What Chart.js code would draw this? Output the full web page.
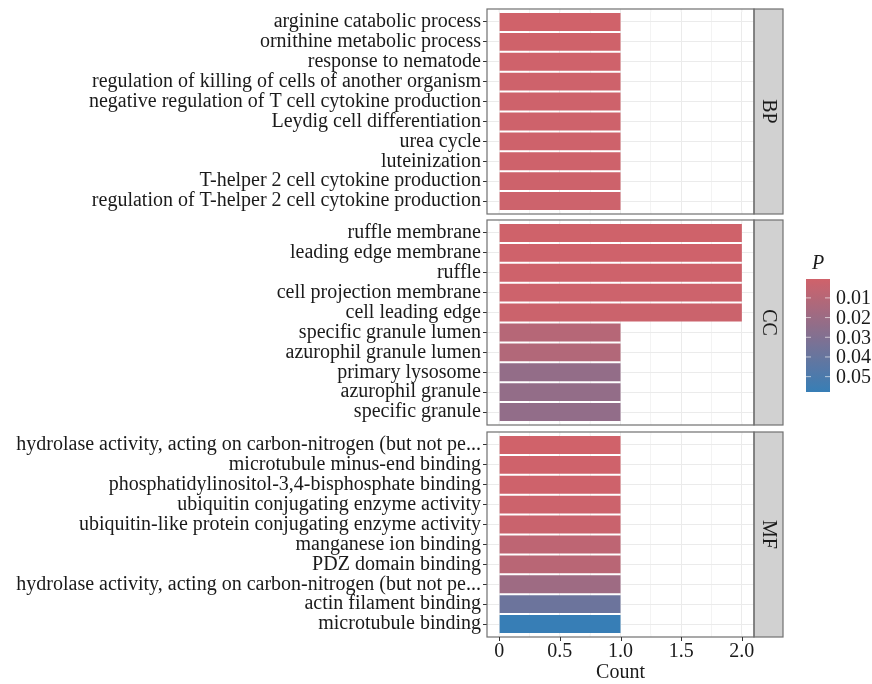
<!DOCTYPE html>
<html><head><meta charset="utf-8">
<script src="https://cdn.jsdelivr.net/npm/chart.js@4"></script>
<style>
html,body{margin:0;padding:0;background:#fff;}
#wrap{position:relative;width:872px;height:684px;background:#fff;}
canvas{position:absolute;left:0;top:0;}
</style></head><body>
<div id="wrap">
<canvas id="c1" width="872" height="684"></canvas>
<canvas id="c2" width="872" height="684"></canvas>
<canvas id="c3" width="872" height="684"></canvas>
</div>
<script>
// ---------- data ----------
const facetNames = ['BP', 'CC', 'MF'];

const bpTerms = [
  'arginine catabolic process',
  'ornithine metabolic process',
  'response to nematode',
  'regulation of killing of cells of another organism',
  'negative regulation of T cell cytokine production',
  'Leydig cell differentiation',
  'urea cycle',
  'luteinization',
  'T-helper 2 cell cytokine production',
  'regulation of T-helper 2 cell cytokine production'
];
const bpCounts = [1, 1, 1, 1, 1, 1, 1, 1, 1, 1];
const bpP = [0.0004, 0.0006, 0.0008, 0.0010, 0.0010, 0.0012, 0.0012, 0.0012, 0.0014, 0.0016];

const ccTerms = [
  'ruffle membrane',
  'leading edge membrane',
  'ruffle',
  'cell projection membrane',
  'cell leading edge',
  'specific granule lumen',
  'azurophil granule lumen',
  'primary lysosome',
  'azurophil granule',
  'specific granule'
];
const ccCounts = [2, 2, 2, 2, 2, 1, 1, 1, 1, 1];
const ccP = [0.0007, 0.0008, 0.0011, 0.0016, 0.0021, 0.0101, 0.0118, 0.0232, 0.0234, 0.0238];

const mfTerms = [
  'hydrolase activity, acting on carbon-nitrogen (but not pe...',
  'microtubule minus-end binding',
  'phosphatidylinositol-3,4-bisphosphate binding',
  'ubiquitin conjugating enzyme activity',
  'ubiquitin-like protein conjugating enzyme activity',
  'manganese ion binding',
  'PDZ domain binding',
  'hydrolase activity, acting on carbon-nitrogen (but not pe...',
  'actin filament binding',
  'microtubule binding'
];
const mfCounts = [1, 1, 1, 1, 1, 1, 1, 1, 1, 1];
const mfP = [0.0005, 0.0008, 0.0010, 0.0018, 0.0030, 0.0072, 0.0090, 0.0193, 0.0378, 0.0578];

const xTickValues = [0, 0.25, 0.5, 0.75, 1, 1.25, 1.5, 1.75, 2];
const xMajorTicks = [0, 0.5, 1, 1.5, 2];
const legendTicks = [0.01, 0.02, 0.03, 0.04, 0.05];

// ---------- colour scale ----------
const LOW = [208, 98, 106], HIGH = [55, 126, 182];
const allP = bpP.concat(ccP, mfP);
const pMin = Math.min(...allP), pMax = Math.max(...allP);
function fracFor(p) { return Math.max(0, Math.min(1, (p - pMin) / (pMax - pMin))); }
function colorFor(p) {
  const f = fracFor(p);
  const c = LOW.map((l, i) => Math.round(l + (HIGH[i] - l) * f));
  return `rgb(${c[0]},${c[1]},${c[2]})`;
}

const FONT = '"Liberation Serif", "Times New Roman", serif';
const TXT = '#1a1a1a';

// ---------- facet plugin ----------
const facetPlugin = {
  id: 'facet',
  beforeDatasetsDraw(chart) {
    const a = chart.chartArea, ctx = chart.ctx, xs = chart.scales.x;
    ctx.save();
    ctx.strokeStyle = '#EBEBEB';
    xTickValues.forEach(v => {
      const x = xs.getPixelForValue(v);
      ctx.lineWidth = xMajorTicks.includes(v) ? 1 : 0.6;
      ctx.beginPath();
      ctx.moveTo(x, a.top - 3); ctx.lineTo(x, a.top);
      ctx.moveTo(x, a.bottom); ctx.lineTo(x, a.bottom + 3);
      ctx.stroke();
    });
    ctx.restore();
  },
  afterDraw(chart, args, opts) {
    const ctx = chart.ctx, a = chart.chartArea;
    const top = a.top - 3, bottom = a.bottom + 3;
    ctx.save();
    const sx = a.right, sw = 29;
    ctx.fillStyle = '#D1D1D1';
    ctx.fillRect(sx, top, sw, bottom - top);
    ctx.strokeStyle = '#707070';
    ctx.lineWidth = 1.2;
    ctx.strokeRect(sx, top, sw, bottom - top);
    ctx.strokeRect(a.left, top, a.right - a.left, bottom - top);
    ctx.save();
    ctx.fillStyle = TXT;
    ctx.font = '20px ' + FONT;
    ctx.translate(sx + sw / 2, (top + bottom) / 2);
    ctx.rotate(Math.PI / 2);
    ctx.textAlign = 'center';
    ctx.textBaseline = 'middle';
    ctx.fillText(opts.label, 0, 0);
    ctx.restore();

    if (opts.xTicks) {
      const xs = chart.scales.x;
      ctx.strokeStyle = '#333';
      ctx.lineWidth = 1;
      xMajorTicks.forEach(v => {
        const x = Math.round(xs.getPixelForValue(v)) + 0.5;
        ctx.beginPath();
        ctx.moveTo(x, bottom); ctx.lineTo(x, bottom + 4);
        ctx.stroke();
      });
    }

    if (opts.legend) {
      const bx = 806, bw = 24, by = 279, bh = 113;
      ctx.fillStyle = TXT;
      ctx.font = 'italic 20px ' + FONT;
      ctx.textAlign = 'left';
      ctx.textBaseline = 'middle';
      ctx.fillText('P', 812, 264);
      const g = ctx.createLinearGradient(0, by, 0, by + bh);
      for (let i = 0; i <= 20; i++) {
        const p = pMin + (pMax - pMin) * i / 20;
        g.addColorStop(i / 20, colorFor(p));
      }
      ctx.fillStyle = g;
      ctx.fillRect(bx, by, bw, bh);
      ctx.font = '20px ' + FONT;
      legendTicks.forEach(v => {
        const y = by + fracFor(v) * bh;
        ctx.strokeStyle = 'rgba(255,255,255,0.6)';
        ctx.lineWidth = 1;
        ctx.beginPath();
        ctx.moveTo(bx, y); ctx.lineTo(bx + 5, y);
        ctx.moveTo(bx + bw - 5, y); ctx.lineTo(bx + bw, y);
        ctx.stroke();
        ctx.fillStyle = TXT;
        ctx.fillText(v.toFixed(2), 836, y + 1);
      });
    }
    ctx.restore();
  }
};

function makeChart(id, terms, counts, pvals, label, padTop, padBottom, isBottom, hasLegend) {
  return new Chart(document.getElementById(id), {
    type: 'bar',
    data: {
      labels: terms,
      datasets: [{
        data: counts,
        backgroundColor: pvals.map(colorFor),
        borderWidth: 0,
        barPercentage: 0.9,
        categoryPercentage: 1.0
      }]
    },
    options: {
      indexAxis: 'y',
      responsive: false,
      animation: false,
      devicePixelRatio: 1,
      layout: { padding: { top: padTop, bottom: padBottom, left: 0, right: 118 } },
      plugins: {
        legend: { display: false },
        tooltip: { enabled: false },
        facet: { label: label, xTicks: isBottom, legend: hasLegend }
      },
      scales: {
        x: {
          type: 'linear',
          min: -0.1,
          max: 2.1,
          afterBuildTicks: s => { s.ticks = xTickValues.map(v => ({ value: v })); },
          afterFit: s => { if (isBottom) s.height = 50; },
          border: { display: false },
          grid: {
            color: '#EBEBEB',
            lineWidth: ctx => (ctx.tick && xMajorTicks.includes(ctx.tick.value)) ? 1 : 0.6,
            drawTicks: isBottom,
            tickLength: 6,
            tickColor: 'rgba(0,0,0,0)'
          },
          ticks: {
            display: isBottom,
            autoSkip: false,
            maxRotation: 0,
            padding: 2,
            color: TXT,
            font: { family: FONT, size: 20, lineHeight: 1 },
            callback: v => xMajorTicks.includes(v) ? (v === 0 ? '0' : v.toFixed(1)) : ''
          },
          title: {
            display: isBottom,
            text: 'Count',
            color: TXT,
            font: { family: FONT, size: 20, lineHeight: 1 },
            padding: { top: 0, bottom: 1 }
          }
        },
        y: {
          type: 'category',
          offset: true,
          afterFit: s => { s.width = 487; },
          border: { display: false },
          grid: {
            offset: false,
            color: '#EBEBEB',
            lineWidth: 1,
            drawTicks: true,
            tickLength: 4,
            tickColor: '#333'
          },
          ticks: {
            autoSkip: false,
            padding: 2,
            color: TXT,
            font: { family: FONT, size: 20, lineHeight: 1 }
          }
        }
      }
    },
    plugins: [facetPlugin]
  });
}

makeChart('c1', bpTerms, bpCounts, bpP, facetNames[0], 12, 684 - 211, false, false);
makeChart('c2', ccTerms, ccCounts, ccP, facetNames[1], 223, 684 - 422, false, true);
makeChart('c3', mfTerms, mfCounts, mfP, facetNames[2], 435, 0, true, false);
</script>
</body></html>
